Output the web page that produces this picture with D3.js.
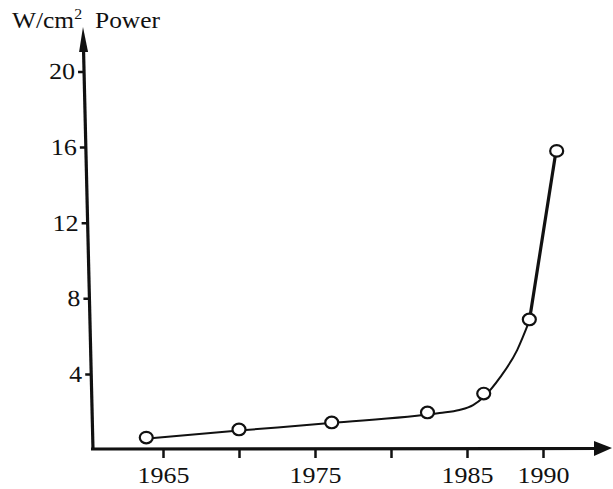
<!DOCTYPE html>
<html lang="en">
<head>
    <meta charset="UTF-8">
    <title>Power</title>
    <script src="https://cdn.jsdelivr.net/npm/d3@7"></script>
    <style>
        body { margin: 0; background: #fff; }
        text { font-family: "Liberation Serif", "DejaVu Serif", serif; fill: #111; }
    </style>
</head>
<body>
<script>
    // measured points
    const years = [1963.9, 1970, 1976.1, 1982.4, 1986.1, 1989.1, 1990.9]
    const power = [0.63, 1.06, 1.43, 1.96, 2.96, 6.88, 15.8]
    // hand drawn trend curve
    const fitYears = [1964.2, 1970, 1976, 1983.2, 1984.5, 1985.4, 1986.1, 1987.2, 1988.3, 1989.1]
    const fitPower = [0.6, 1.0, 1.4, 1.93, 2.09, 2.35, 2.78, 3.84, 5.26, 6.8]
    // steep last segment
    const steepYears = [1989.1, 1990.8]
    const steepPower = [6.8, 15.5]
    const xTicks = [1965, 1970, 1975, 1980, 1985, 1990]
    const xLabels = ['1965', '', '1975', '', '1985', '1990']
    const yTicks = [4, 8, 12, 16, 20]

    const [width, height] = [613, 489]
    const x = d3.scaleLinear().domain([1965, 1990]).range([163, 543])
    const y = d3.scaleLinear().domain([0, 20]).range([449.5, 71.5])
    const wide = 'scale(1.13,1)'  // old print type runs wider than Liberation Serif

    const svg = d3.select('body').append('svg')
        .attr('width', width)
        .attr('height', height)

    // y axis, drawn slightly leaning like the original
    const slant = 10 / 422
    const yAxis = svg.append('g')
        .attr('transform', `translate(${93 - 449.5 * slant},0) skewX(${Math.atan(slant) * 180 / Math.PI})`)
        .call(d3.axisLeft(y).tickValues(yTicks).tickSize(6).tickPadding(2))
    yAxis.select('.domain').remove()
    yAxis.selectAll('.tick line').attr('stroke', '#111').attr('stroke-width', 2.5)
    yAxis.selectAll('.tick text').attr('font-size', 23).attr('fill', '#111').attr('transform', wide)
    yAxis.append('line')
        .attr('x1', 0).attr('x2', 0)
        .attr('y1', 450).attr('y2', 45)
        .attr('stroke', '#111').attr('stroke-width', 3.2)
    yAxis.append('path')
        .attr('d', 'M0,27 L-4.5,52 L4.5,52 Z')
        .attr('fill', '#111')

    // x axis
    const xAxis = svg.append('g')
        .attr('transform', 'translate(0,449)')
        .call(d3.axisBottom(x).tickValues(xTicks).tickSize(9).tickPadding(9)
            .tickFormat((d, i) => xLabels[i]))
    xAxis.select('.domain').remove()
    xAxis.selectAll('.tick line').attr('stroke', '#111').attr('stroke-width', 2.5)
    xAxis.selectAll('.tick text').attr('font-size', 23).attr('fill', '#111').attr('transform', wide)
    xAxis.append('line')
        .attr('x1', 91).attr('x2', 600)
        .attr('y1', 0).attr('y2', -0.5)
        .attr('stroke', '#111').attr('stroke-width', 3.2)
    xAxis.append('path')
        .attr('d', 'M612,-1 L594,-8 L594,7 Z')
        .attr('fill', '#111')

    // axis title
    const title = svg.append('text')
        .attr('transform', 'translate(12,28) scale(1.06,1)')
        .attr('font-size', 24)
    title.append('tspan').text('W/cm')
    title.append('tspan').text('2').attr('font-size', 15).attr('dy', -9)
    svg.append('text')
        .attr('transform', 'translate(95,28) scale(1.06,1)')
        .attr('font-size', 24)
        .text('Power')

    // trend curve
    const fit = fitYears.map((d, i) => ({x: d, y: fitPower[i]}))
    const line = d3.line()
        .x(d => x(d.x))
        .y(d => y(d.y))
        .curve(d3.curveMonotoneX)
    svg.append('path')
        .attr('d', line(fit))
        .attr('fill', 'none')
        .attr('stroke', '#111')
        .attr('stroke-width', 2)

    const steep = steepYears.map((d, i) => ({x: d, y: steepPower[i]}))
    svg.append('path')
        .attr('d', d3.line().x(d => x(d.x)).y(d => y(d.y))(steep))
        .attr('fill', 'none')
        .attr('stroke', '#111')
        .attr('stroke-width', 3.2)

    // points
    const pts = years.map((d, i) => ({x: d, y: power[i]}))
    svg.selectAll('ellipse.pt').data(pts).enter()
        .append('ellipse').attr('class', 'pt')
        .attr('cx', d => x(d.x))
        .attr('cy', d => y(d.y))
        .attr('rx', 6.5)
        .attr('ry', 5.8)
        .attr('fill', '#fff')
        .attr('stroke', '#111')
        .attr('stroke-width', 2.2)
</script>
</body>
</html>
